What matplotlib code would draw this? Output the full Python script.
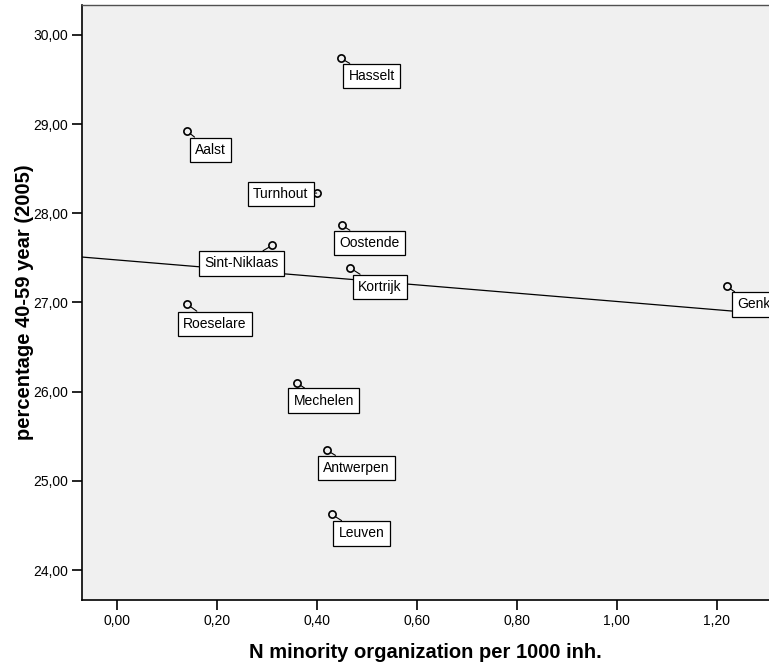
import numpy as np
import matplotlib
matplotlib.use("Agg")
import matplotlib.pyplot as plt
from matplotlib.ticker import FuncFormatter

plt.rcParams["font.family"] = ["Liberation Sans", "DejaVu Sans"]

# cities: minority organizations per 1000 inhabitants vs share aged 40-59
cities = ["Hasselt", "Aalst", "Turnhout", "Oostende", "Sint-Niklaas", "Kortrijk",
          "Roeselare", "Genk", "Mechelen", "Antwerpen", "Leuven"]
org_per_1000 = [0.448, 0.14, 0.40, 0.45, 0.311, 0.467, 0.14, 1.22, 0.36, 0.42, 0.43]
pct_40_59 = [29.74, 28.925, 28.227, 27.869, 27.64, 27.387, 26.984, 27.18, 26.10, 25.345, 24.625]

xticks = [0.0, 0.2, 0.4, 0.6, 0.8, 1.0, 1.2]
yticks = [24, 25, 26, 27, 28, 29, 30]

# label box centre offsets in pixels (right, up) from each point
label_offsets = {
    "Hasselt": (31, -18), "Aalst": (24, -19), "Turnhout": (-36, -1),
    "Oostende": (28, -18), "Sint-Niklaas": (-31, -18), "Kortrijk": (30, -19),
    "Roeselare": (28, -20), "Genk": (27, -18), "Mechelen": (27, -18),
    "Antwerpen": (30, -18), "Leuven": (30, -19),
}

fig = plt.figure(figsize=(7.69, 6.63), dpi=100)
ax = fig.add_axes([0.1066, 0.095, 0.8934, 0.8975])
ax.set_facecolor("#f0f0f0")

xmin, xmax = -0.0693, 1.3046
ax.set_xlim(xmin, xmax)
ax.set_ylim(23.664, 30.336)

# least squares fit line
slope, intercept = np.polyfit(org_per_1000, pct_40_59, 1)
xs = np.array([xmin, xmax])
ax.plot(xs, intercept + slope * xs, color="black", lw=0.9, zorder=2)

ax.plot(org_per_1000, pct_40_59, "o", ms=5.2, mfc="none", mec="black", mew=1.2, zorder=3)

for name, x, y in zip(cities, org_per_1000, pct_40_59):
    dx, dy = label_offsets[name]
    ax.annotate(name, (x, y), xytext=(dx, dy), textcoords="offset pixels",
                ha="center", va="center", fontsize=10, zorder=4,
                bbox=dict(boxstyle="square,pad=0.38", fc="white", ec="black", lw=0.9),
                arrowprops=dict(arrowstyle="-", color="black", lw=0.8,
                                shrinkA=0, shrinkB=3),
                annotation_clip=False)

fmt = FuncFormatter(lambda v, p: f"{v:.2f}".replace(".", ","))
ax.set_xticks(xticks)
ax.set_yticks(yticks)
ax.xaxis.set_major_formatter(fmt)
ax.yaxis.set_major_formatter(fmt)
ax.tick_params(direction="out", length=7, width=1.2, labelsize=10, color="black", pad=3)

for side in ["left", "bottom"]:
    ax.spines[side].set_linewidth(1.2)
    ax.spines[side].set_color("black")
ax.spines["top"].set_color("#505050")
ax.spines["top"].set_linewidth(1.0)
ax.spines["right"].set_visible(False)

ax.set_xlabel("N minority organization per 1000 inh.", fontsize=14.5, fontweight="bold")
ax.set_ylabel("percentage 40-59 year (2005)", fontsize=14.5, fontweight="bold")
ax.xaxis.set_label_coords(0.5, -0.072)
ax.yaxis.set_label_coords(-0.07, 0.5)

fig.savefig("out.png", dpi=100)
